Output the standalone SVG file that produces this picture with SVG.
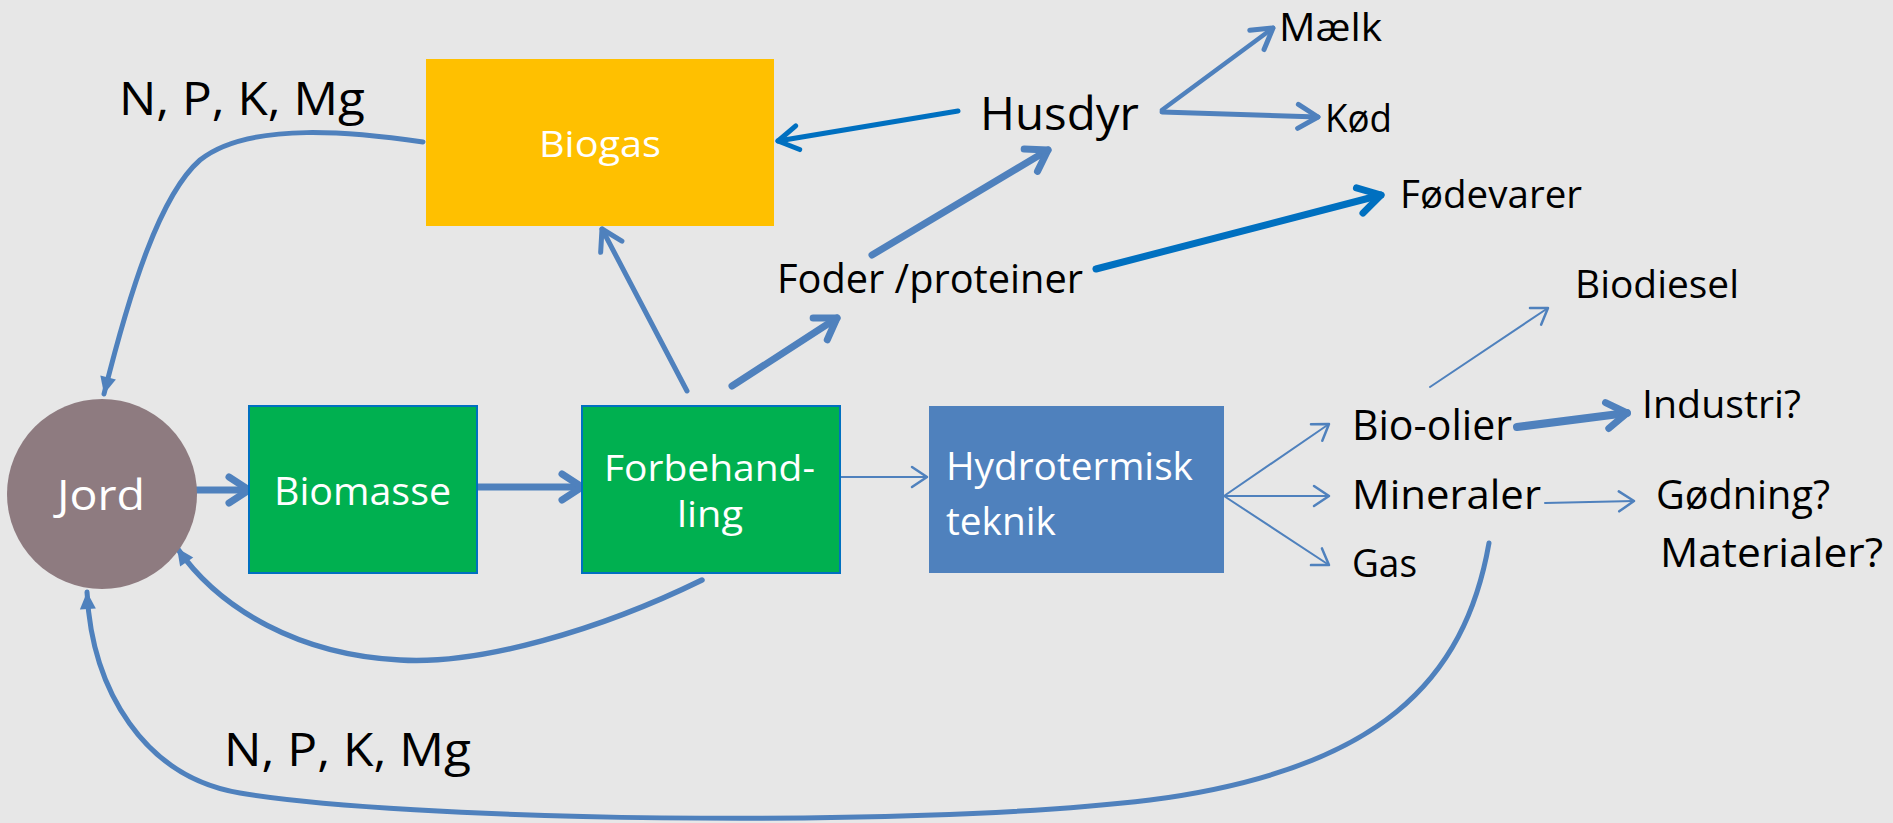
<svg xmlns="http://www.w3.org/2000/svg" width="1893" height="823" viewBox="0 0 1893 823">
<style>
text{font-family:"Open Sans","Liberation Sans",sans-serif;fill:#000}
.w{fill:#fff}
.c{fill:none;stroke:#4F81BD;stroke-linecap:round;stroke-linejoin:round}
.d{stroke:#0070C0}
.s2{stroke-width:2}
.s4{stroke-width:4.5}
.s5{stroke-width:5}
.s6{stroke-width:5.5}
.s7{stroke-width:7}
</style>
<defs>
<marker id="chevL" markerUnits="userSpaceOnUse" viewBox="-40 -20 50 40" markerWidth="50" markerHeight="40" refX="0" refY="0" orient="auto" overflow="visible"><path d="M-20,-13 L0,0 L-20,13" fill="none" stroke="#4F81BD" stroke-width="7" stroke-linecap="round" stroke-linejoin="round"/></marker>
<marker id="chevM" markerUnits="userSpaceOnUse" viewBox="-40 -20 50 40" markerWidth="50" markerHeight="40" refX="0" refY="0" orient="auto" overflow="visible"><path d="M-20,-12 L0,0 L-20,12" fill="none" stroke="#4F81BD" stroke-width="5" stroke-linecap="round" stroke-linejoin="round"/></marker>
<marker id="chevS" markerUnits="userSpaceOnUse" viewBox="-40 -20 50 40" markerWidth="50" markerHeight="40" refX="0" refY="0" orient="auto" overflow="visible"><path d="M-15,-10 L0,0 L-15,10" fill="none" stroke="#4F81BD" stroke-width="2.5" stroke-linecap="round" stroke-linejoin="round"/></marker>
<marker id="chevDL" markerUnits="userSpaceOnUse" viewBox="-40 -20 50 40" markerWidth="50" markerHeight="40" refX="0" refY="0" orient="auto" overflow="visible"><path d="M-22,-13 L0,0 L-22,13" fill="none" stroke="#0070C0" stroke-width="7" stroke-linecap="round" stroke-linejoin="round"/></marker>
<marker id="chevDM" markerUnits="userSpaceOnUse" viewBox="-40 -20 50 40" markerWidth="50" markerHeight="40" refX="0" refY="0" orient="auto" overflow="visible"><path d="M-20,-12 L0,0 L-20,12" fill="none" stroke="#0070C0" stroke-width="5" stroke-linecap="round" stroke-linejoin="round"/></marker>
<marker id="tri" markerUnits="userSpaceOnUse" viewBox="-20 -10 25 20" markerWidth="25" markerHeight="20" refX="0" refY="0" orient="auto" overflow="visible"><path d="M-17,-8 L0,0 L-17,8 Z" fill="#4F81BD"/></marker>
</defs>
<rect width="1893" height="823" fill="#E7E7E7"/>

<g id="connectors">
<path class="c s5" d="M423,142 C360,133 250,120 200,160 C160,195 130,290 104,394" marker-end="url(#tri)"/>
<path class="c s6" d="M702,580 C600,630 480,665 400,660 C300,655 220,610 177,548" marker-end="url(#tri)"/>
<path class="c s5" d="M1489,543 C1465,680 1380,770 1150,800 C900,830 400,820 240,793 C144,777 92,690 87,592" marker-end="url(#tri)"/>
<path class="c s7" d="M173,490 L249,490" marker-end="url(#chevL)"/>
<path class="c s7" d="M477,487 L582,487" marker-end="url(#chevL)"/>
<path class="c s2" d="M824,477 L927,477" marker-end="url(#chevS)"/>
<path class="c s5" d="M687,391 L602,229" marker-end="url(#chevM)"/>
<path class="c s7" d="M732,386 L837,318" marker-end="url(#chevL)"/>
<path class="c s7" d="M872,255 L1048,150" marker-end="url(#chevL)"/>
<path class="c d s7" d="M1096,269 L1381,195" marker-end="url(#chevDL)"/>
<path class="c d s5" d="M958,111 L778,141" marker-end="url(#chevDM)"/>
<path class="c s4" d="M1162,110 L1273,28" marker-end="url(#chevM)"/>
<path class="c s5" d="M1162,112 L1318,117" marker-end="url(#chevM)"/>
<path class="c s2" d="M1224,496 L1329,424" marker-end="url(#chevS)"/>
<path class="c s2" d="M1224,496 L1329,496" marker-end="url(#chevS)"/>
<path class="c s2" d="M1224,496 L1329,565" marker-end="url(#chevS)"/>
<path class="c s2" d="M1430,387 L1548,308" marker-end="url(#chevS)"/>
<path class="c" stroke-width="8" d="M1517,427 L1627,413" marker-end="url(#chevL)"/>
<path class="c s2" d="M1545,503 L1634,501" marker-end="url(#chevS)"/>
</g>

<g id="biogas">
<rect x="426" y="59" width="348" height="167" fill="#FFC000"/>
<text class="w" x="539" y="157" font-size="37" textLength="122" lengthAdjust="spacingAndGlyphs">Biogas</text>
</g>
<g id="jord">
<circle cx="102" cy="494" r="95" fill="#8E7B80"/>
<text class="w" x="57" y="510" font-size="42" textLength="88" lengthAdjust="spacingAndGlyphs">Jord</text>
</g>
<g id="biomasse">
<rect x="249" y="406" width="228" height="167" fill="#00B050" stroke="#0070C0" stroke-width="2"/>
<text class="w" x="274" y="505" font-size="38" textLength="177" lengthAdjust="spacingAndGlyphs">Biomasse</text>
</g>
<g id="forbehandling">
<rect x="582" y="406" width="258" height="167" fill="#00B050" stroke="#0070C0" stroke-width="2"/>
<text class="w" x="604" y="481" font-size="37" textLength="211" lengthAdjust="spacingAndGlyphs">Forbehand-</text>
<text class="w" x="677" y="527" font-size="37" textLength="66" lengthAdjust="spacingAndGlyphs">ling</text>
</g>
<g id="hydrotermisk">
<rect x="929" y="406" width="295" height="167" fill="#4F81BD"/>
<text class="w" x="946" y="480" font-size="39" textLength="247" lengthAdjust="spacingAndGlyphs">Hydrotermisk</text>
<text class="w" x="946" y="535" font-size="39" textLength="110" lengthAdjust="spacingAndGlyphs">teknik</text>
</g>
<g id="npk-top"><text x="119" y="115" font-size="45" textLength="246" lengthAdjust="spacingAndGlyphs">N, P, K, Mg</text></g>
<g id="npk-bottom"><text x="224" y="766" font-size="45" textLength="247" lengthAdjust="spacingAndGlyphs">N, P, K, Mg</text></g>
<g id="husdyr"><text x="980" y="130" font-size="45" textLength="159" lengthAdjust="spacingAndGlyphs">Husdyr</text></g>
<g id="maelk"><text x="1279" y="41" font-size="38" textLength="103" lengthAdjust="spacingAndGlyphs">Mælk</text></g>
<g id="koed"><text x="1325" y="132" font-size="39" textLength="67" lengthAdjust="spacingAndGlyphs">Kød</text></g>
<g id="foedevarer"><text x="1400" y="208" font-size="39" textLength="182" lengthAdjust="spacingAndGlyphs">Fødevarer</text></g>
<g id="foder"><text x="777" y="293" font-size="40" textLength="306" lengthAdjust="spacingAndGlyphs">Foder /proteiner</text></g>
<g id="biodiesel"><text x="1575" y="298" font-size="39" textLength="164" lengthAdjust="spacingAndGlyphs">Biodiesel</text></g>
<g id="bio-olier"><text x="1352" y="440" font-size="42" textLength="160" lengthAdjust="spacingAndGlyphs">Bio-olier</text></g>
<g id="industri"><text x="1642" y="418" font-size="39" textLength="159" lengthAdjust="spacingAndGlyphs">Industri?</text></g>
<g id="mineraler"><text x="1352" y="509" font-size="41" textLength="189" lengthAdjust="spacingAndGlyphs">Mineraler</text></g>
<g id="goedning"><text x="1656" y="509" font-size="41" textLength="174" lengthAdjust="spacingAndGlyphs">Gødning?</text></g>
<g id="materialer"><text x="1660" y="567" font-size="41" textLength="223" lengthAdjust="spacingAndGlyphs">Materialer?</text></g>
<g id="gas"><text x="1352" y="577" font-size="38" textLength="65" lengthAdjust="spacingAndGlyphs">Gas</text></g>
</svg>
